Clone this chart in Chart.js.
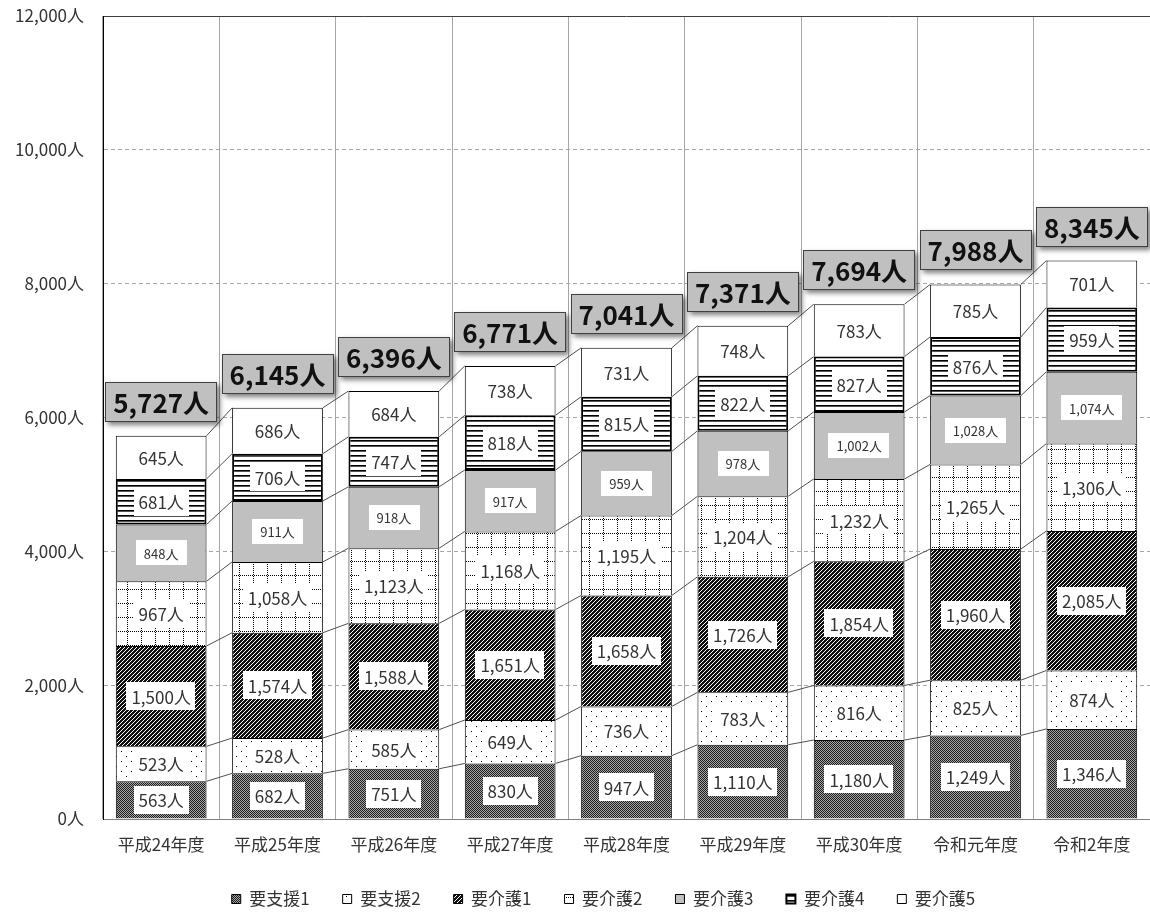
<!DOCTYPE html>
<html><head><meta charset="utf-8">
<script src="https://cdn.jsdelivr.net/npm/chart.js@4.4.1/dist/chart.umd.min.js"></script>
<style>html,body{margin:0;padding:0;background:#fff;}#wrap{width:1150px;height:914px;}</style>
</head><body><div id="wrap"><canvas id="c" width="1150" height="914"></canvas></div>
<script>
const categories = ['平成24年度','平成25年度','平成26年度','平成27年度','平成28年度','平成29年度','平成30年度','令和元年度','令和2年度'];
const seriesNames = ['要支援1','要支援2','要介護1','要介護2','要介護3','要介護4','要介護5'];
const youShien1 = [563,682,751,830,947,1110,1180,1249,1346];
const youShien2 = [523,528,585,649,736,783,816,825,874];
const youKaigo1 = [1500,1574,1588,1651,1658,1726,1854,1960,2085];
const youKaigo2 = [967,1058,1123,1168,1195,1204,1232,1265,1306];
const youKaigo3 = [848,911,918,917,959,978,1002,1028,1074];
const youKaigo4 = [681,706,747,818,815,822,827,876,959];
const youKaigo5 = [645,686,684,738,731,748,783,785,701];
const totals = [5727,6145,6396,6771,7041,7371,7694,7988,8345];
const yTickValues = [0,2000,4000,6000,8000,10000,12000];

const FONT = '"Noto Sans CJK JP","Noto Sans",sans-serif';
const canvas = document.getElementById('c');
const mainCtx = canvas.getContext('2d');
function tile(w,h,fn){const c=document.createElement('canvas');c.width=w;c.height=h;const g=c.getContext('2d');fn(g);return mainCtx.createPattern(c,'repeat');}
function px(g,x,y,col){g.fillStyle=col;g.fillRect(x,y,1,1);}

const patShien1 = tile(2,2,g=>{g.fillStyle='#a8a8a8';g.fillRect(0,0,2,2);px(g,0,0,'#1a1a1a');px(g,1,1,'#1a1a1a');});
const patShien2 = tile(10,10,g=>{g.fillStyle='#fff';g.fillRect(0,0,10,10);px(g,1,1,'#000');px(g,6,6,'#000');});
const patKaigo1 = tile(4,4,g=>{g.fillStyle='#111';g.fillRect(0,0,4,4);px(g,3,0,'#fff');px(g,2,1,'#fff');px(g,1,2,'#fff');px(g,0,3,'#fff');});
const patKaigo2 = tile(14,14,g=>{g.fillStyle='#fff';g.fillRect(0,0,14,14);for(let i=0;i<14;i+=2){px(g,i,1,'#000');px(g,1,i,'#000');}});
const patKaigo3 = '#c0c0c0';
const patKaigo4 = tile(4,5,g=>{g.fillStyle='#fff';g.fillRect(0,0,4,5);g.fillStyle='#000';g.fillRect(0,0,4,1);g.fillStyle='#555';g.fillRect(0,1,4,1);});
const patKaigo5 = '#ffffff';

const seriesData = [youShien1,youShien2,youKaigo1,youKaigo2,youKaigo3,youKaigo4,youKaigo5];
const fills = [patShien1,patShien2,patKaigo1,patKaigo2,patKaigo3,patKaigo4,patKaigo5];

const datasets = seriesNames.map((n,i)=>({
  label:n, data:seriesData[i], backgroundColor:fills[i], borderColor:'#000',
  borderWidth: i===5 ? 2 : 1, borderSkipped: i===5 ? false : 'start',
  barPercentage:0.78, categoryPercentage:1
}));

function fmt(v){return v.toLocaleString('en-US');}

const legendShift = {
  id:'legendShift',
  afterLayout(chart){
    if(chart.legend){ chart.legend.left = 57; }
  }
};

const framePlugin = {
  id:'frame',
  beforeDatasetsDraw(chart){
    const {ctx, chartArea:a} = chart;
    ctx.save();
    ctx.strokeStyle='#404040'; ctx.lineWidth=1;
    ctx.beginPath(); ctx.moveTo(a.left, a.top+0.5); ctx.lineTo(a.right, a.top+0.5); ctx.stroke();
    ctx.strokeStyle='#000';
    ctx.beginPath(); ctx.moveTo(a.left+0.5, a.top); ctx.lineTo(a.left+0.5, a.bottom); ctx.stroke();
    ctx.restore();
  }
};

const seriesLinePlugin = {
  id:'serieslines',
  afterDatasetsDraw(chart){
    const ctx = chart.ctx;
    ctx.save();
    ctx.strokeStyle='#505050'; ctx.lineWidth=1;
    chart.data.datasets.forEach((ds,di)=>{
      const meta = chart.getDatasetMeta(di);
      for(let i=0;i<meta.data.length-1;i++){
        const a = meta.data[i], b = meta.data[i+1];
        ctx.beginPath();
        ctx.moveTo(a.x + a.width/2, a.y);
        ctx.lineTo(b.x - b.width/2, b.y);
        ctx.stroke();
      }
    });
    ctx.restore();
  }
};

const labelPlugin = {
  id:'seglabels',
  afterDatasetsDraw(chart){
    const ctx = chart.ctx;
    ctx.save();
    ctx.textAlign='center'; ctx.textBaseline='middle';
    chart.data.datasets.forEach((ds,di)=>{
      const meta = chart.getDatasetMeta(di);
      const small = di===4;
      ctx.font = (small?'13px ':'17px ') + FONT;
      meta.data.forEach((el,i)=>{
        const t = fmt(ds.data[i]) + '人';
        const tw = ctx.measureText(t).width;
        const bw = tw + (small?16:10), bh = small?25:28;
        const cy = (el.y + el.base)/2;
        ctx.fillStyle='#fff';
        ctx.fillRect(Math.round(el.x-bw/2), Math.round(cy-bh/2), Math.round(bw), bh);
        ctx.fillStyle='#333';
        ctx.fillText(t, el.x, cy+1);
      });
    });
    const top = chart.getDatasetMeta(chart.data.datasets.length-1);
    ctx.font = 'bold 26px ' + FONT;
    top.data.forEach((el,i)=>{
      const t = fmt(totals[i]) + '人';
      const tw = ctx.measureText(t).width;
      const bw = Math.round(tw + 16), bh = 40;
      const bx = Math.round(el.x - bw/2), by = Math.round(el.y - 14 - bh);
      ctx.save();
      ctx.shadowColor='rgba(0,0,0,0.5)'; ctx.shadowBlur=5; ctx.shadowOffsetX=3; ctx.shadowOffsetY=3;
      ctx.fillStyle='#c0c0c0'; ctx.fillRect(bx,by,bw,bh);
      ctx.restore();
      ctx.strokeStyle='#404040'; ctx.lineWidth=1; ctx.strokeRect(bx+0.5,by+0.5,bw-1,bh-1);
      ctx.fillStyle='#111';
      ctx.fillText(t, el.x, by+bh/2+1);
    });
    ctx.restore();
  }
};

Chart.defaults.font.family = FONT;
new Chart(canvas, {
  type:'bar',
  data:{labels:categories, datasets},
  options:{
    responsive:false, animation:false,
    layout:{padding:{top:16,left:0,right:0,bottom:-3.5}},
    plugins:{
      legend:{position:'bottom', labels:{boxWidth:9, boxHeight:9, padding:33, color:'#333', font:{size:17}}},
      tooltip:{enabled:false}
    },
    scales:{
      x:{stacked:true,
        grid:{color:'#a6a6a6', lineWidth:1, drawTicks:false},
        border:{color:'#808080'},
        ticks:{color:'#333', font:{size:17}, padding:15, maxRotation:0, autoSkip:false},
        afterFit(s){s.height=38.5;}
      },
      y:{stacked:true, min:0, max:12000,
        grid:{color:'#a6a6a6', lineWidth:1, drawTicks:false},
        border:{color:'#000', dash:[4,3]},
        ticks:{color:'#333', font:{size:17}, padding:19, callback:v=>fmt(v)+'人'},
        afterBuildTicks(s){s.ticks = yTickValues.map(v=>({value:v}));},
        afterFit(s){s.width=103; s.paddingTop=0; s.paddingBottom=0;}
      }
    }
  },
  plugins:[legendShift, framePlugin, seriesLinePlugin, labelPlugin]
});
</script></body></html>
